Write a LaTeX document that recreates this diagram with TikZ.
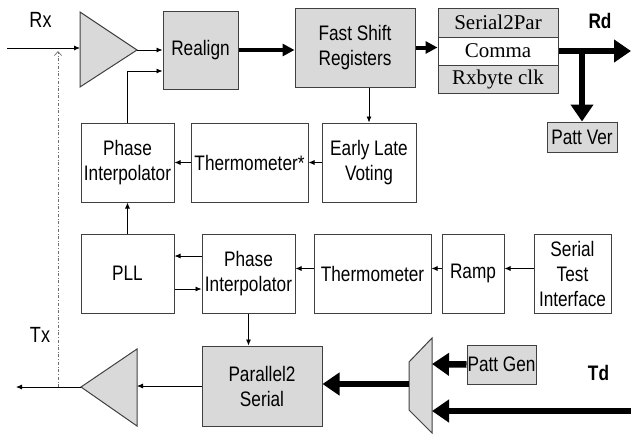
\documentclass[tikz,border=0pt]{standalone}
\usepackage{fontspec}
\setmainfont{Liberation Sans}[FakeStretch=0.82]
\newfontfamily\stackfont{Liberation Serif}
\usetikzlibrary{arrows.meta,positioning}

\definecolor{blockfill}{RGB}{217,217,217}
\definecolor{blockline}{RGB}{64,64,64}
\definecolor{tapline}{RGB}{110,110,110}

\tikzset{
  block/.style={draw=blockline, line width=1pt, minimum width=93pt, minimum height=79pt,
    inner sep=0pt, align=center, font=\fontsize{21}{25}\selectfont},
  gblock/.style={block, fill=blockfill},
  sblock/.style={draw=blockline, line width=1pt, minimum width=120pt, minimum height=29pt,
    inner sep=0pt, font=\stackfont\fontsize{21}{23}\selectfont},
  amp/.style={fill=blockfill, draw=blockline, line width=1pt},
  link/.style={-{Latex[length=6pt,width=5pt]}, line width=0.8pt},
  bus/.style={-{Triangle[length=12pt,width=12pt]}, line width=4pt},
  wide/.style={-{Triangle[length=17pt,width=22pt]}, line width=6.5pt},
  sig/.style={inner sep=0pt, font=\fontsize{22}{26}\selectfont},
  bigsig/.style={inner sep=0pt, font=\fontsize{21}{25}\selectfont\bfseries}
}

\begin{document}
\begin{tikzpicture}[x=1pt,y=-1pt]
  \useasboundingbox (0,0) rectangle (631,434);

  % receive side
  \filldraw[amp] (80,12) -- (137,50) -- (80,87) -- cycle;
  \coordinate (rxin) at (7,48);
  \coordinate (rxamp in) at (80,48);
  \coordinate (rxamp out) at (137,50);
  \node[gblock, minimum width=75pt, minimum height=78pt] (realign) at (200.5,50) {Realign};
  \node[gblock, minimum width=120pt] (fsr) at (355,47.5) {Fast Shift\\Registers};
  \node[sblock, fill=blockfill] (s2p) at (498,22.5) {Serial2Par};
  \node[sblock, minimum height=28pt] (comma) at (498,51) {Comma};
  \node[sblock, fill=blockfill, minimum height=28pt] (rxclk) at (498,79) {Rxbyte clk};
  \node[gblock, minimum width=70pt, minimum height=30pt] (pattver) at (582,137) {Patt Ver};
  \coordinate (rdout) at (631,51);

  \node[block] (pi1) at (127.5,162.5) {Phase\\Interpolator};
  \node[block, minimum width=117pt] (therm1) at (249.5,162.5) {Thermometer*};
  \node[block, minimum width=94pt] (elv) at (369,162.5) {Early Late\\Voting};

  % clock side
  \node[block] (pll) at (127.5,273.5) {PLL};
  \node[block] (pi2) at (248.5,273.5) {Phase\\Interpolator};
  \node[block, minimum width=117pt] (therm2) at (372.5,273.5) {Thermometer};
  \node[block, minimum width=62pt] (ramp) at (473,273.5) {Ramp};
  \node[block, minimum width=77pt] (sti) at (572.5,273.5) {Serial\\Test\\Interface};

  % transmit side
  \node[gblock, minimum width=120pt, minimum height=80pt] (p2s) at (262,386) {Parallel2\\Serial};
  \filldraw[amp] (81,387) -- (137,349) -- (137,426) -- cycle;
  \coordinate (txamp in) at (137,386);
  \coordinate (txamp out) at (81,387);
  \coordinate (txout) at (16,387);
  \filldraw[amp] (409,362) -- (432,338) -- (432,433) -- (409,410) -- cycle;
  \coordinate (mux out) at (409,384);
  \coordinate (mux gen) at (432,364);
  \coordinate (mux td) at (432,411);
  \coordinate (tdin) at (631,411);
  \node[gblock, minimum width=69pt, minimum height=39pt] (pattgen) at (501.5,364.5) {Patt Gen};

  \coordinate (txtap) at (58,387);
  \coordinate (rxtap) at (58,51);

  % labels
  \node[sig] (rx) at (40.5,20) {Rx};
  \node[sig] (tx) at (40,335) {Tx};
  \node[bigsig] (rd) at (600,21) {Rd};
  \node[bigsig] (td) at (598.5,372.5) {Td};

  % connections
  \draw[link] (rxin) -- (rxamp in);
  \draw[link] (rxamp out) -- (realign.west);
  \draw[link] (pi1.north) |- ([yshift=-21pt]realign.west);
  \draw[bus] (realign.east) -- (realign.east -| fsr.west);
  \draw[bus] (fsr.east) -- (fsr.east -| comma.west);
  \draw[wide] (comma.east) -- (rdout);
  \draw[wide] (comma.east -| pattver.north) -- (pattver.north);
  \draw[link] (elv.north |- fsr.south) -- (elv.north);
  \draw[link] (elv.west) -- (therm1.east);
  \draw[link] (therm1.west) -- (pi1.east);
  \draw[link] (pll.north) -- (pi1.south);
  \draw[link] ([yshift=17.5pt]pi2.west) -- ([yshift=17.5pt]pll.east);
  \draw[link] ([yshift=-15.5pt]pll.east) -- ([yshift=-15.5pt]pi2.west);
  \draw[link] ([yshift=5pt]therm2.west) -- ([yshift=5pt]pi2.east);
  \draw[link] ([yshift=5pt]ramp.west) -- ([yshift=5pt]therm2.east);
  \draw[link] ([yshift=5pt]sti.west) -- ([yshift=5pt]ramp.east);
  \draw[link] (pi2.south) -- (pi2.south |- p2s.north);
  \draw[link] (p2s.west) -- (txamp in);
  \draw[link] (txamp out) -- (txout);
  \draw[tapline, dash dot, line width=0.7pt, -{Straight Barb[length=4pt,width=7pt]}] (txtap) -- (rxtap);
  \draw[wide] (mux out) -- (mux out -| p2s.east);
  \draw[wide] (pattgen.west) -- (mux gen);
  \draw[wide] (tdin) -- (mux td);
\end{tikzpicture}
\end{document}
